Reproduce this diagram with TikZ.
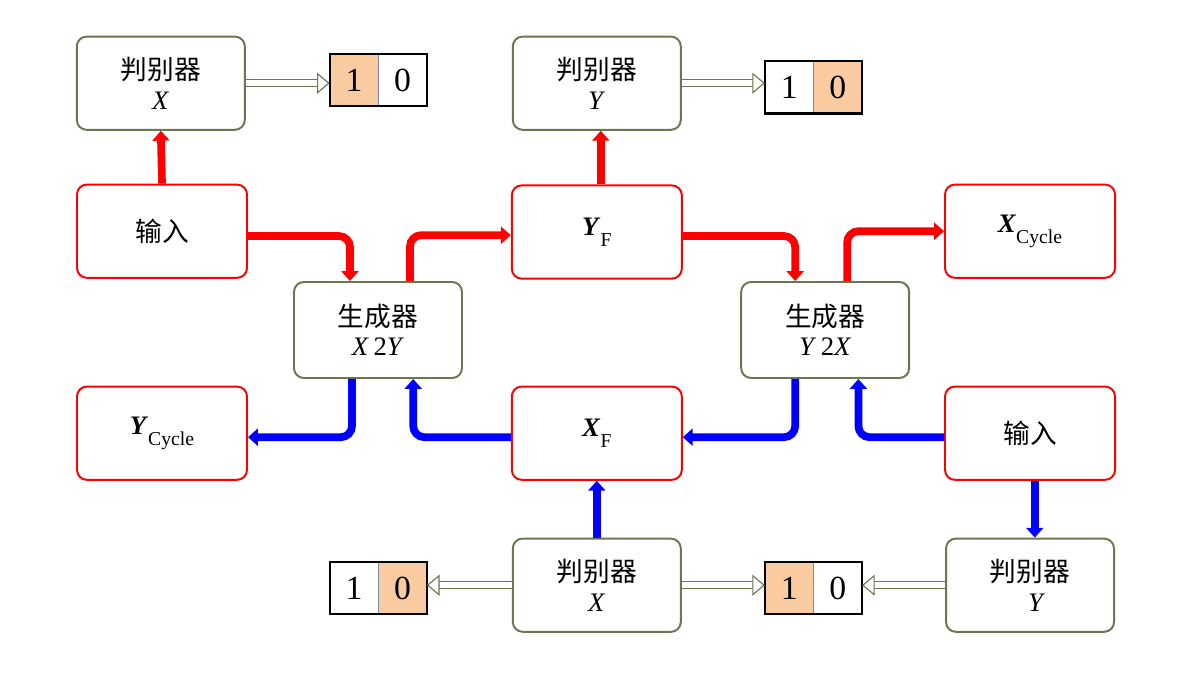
\documentclass[tikz,border=0pt]{standalone}
\usepackage{fontspec}
\setmainfont{Liberation Serif}
\newfontfamily\cjk{Noto Sans CJK SC}
\usepackage{tikz}
\usetikzlibrary{arrows.meta,calc,positioning}
\definecolor{boxred}{RGB}{255,0,0}
\definecolor{flowblue}{RGB}{0,0,255}
\definecolor{boxolive}{RGB}{105,120,80}
\definecolor{peach}{RGB}{250,203,160}
\definecolor{divgray}{RGB}{120,140,170}
\newcommand\lowsub[1]{\raisebox{-8pt}{\fontsize{14}{14}\selectfont #1}}
\tikzset{
    redbox/.style={draw=boxred, line width=1.4pt, rounded corners=7pt, minimum width=4.25cm, minimum height=2.33cm, align=center},
    olivebox/.style={draw=boxolive, line width=1.4pt, rounded corners=7pt, minimum width=4.2cm, minimum height=2.33cm, align=center},
    genbox/.style={olivebox, minimum height=2.4cm},
    cell/.style={minimum width=1.2cm, minimum height=1.3cm, inner sep=0pt, font=\fontsize{24}{24}\selectfont},
    redflow/.style={draw=boxred, line width=5.5pt, rounded corners=8pt, -{Triangle[length=7pt,width=12pt]}},
    blueflow/.style={redflow, draw=flowblue},
    hollowshaft/.style={draw=boxolive, line width=0.8pt, double=white, double distance=4pt, shorten >=8pt},
    hollowtip/.style={draw=boxolive, line width=0.8pt, -{Triangle[length=9pt,width=15pt,fill=white]}}
}
\def\Hollow(#1) to (#2);{
    \coordinate (hend) at (#1 -| #2);
    \draw[hollowshaft] (#1) -- (hend);
    \draw[hollowtip] ($(hend)!9pt!(#1)$) -- (hend);
}
\def\Score at (#1, #2) named #3 fill #4 and #5;{
    \node[cell, fill=#4] (#3a) at (#1, #2) {1};
    \node[cell, fill=#5, right=0pt of #3a] (#3b) {0};
    \draw[divgray, line width=1pt] (#3a.north east) -- (#3a.south east);
    \draw[line width=1.5pt] (#3a.north west) rectangle (#3b.south east);
}

\begin{document}
\begin{tikzpicture}[font=\fontsize{19}{21}\selectfont]
        \useasboundingbox (0, 0) rectangle (30, -16.85);
        % top row
        \node[olivebox] (dXt) at (4.02, -2.08) {{\cjk 判别器}\\\textit{X}};
        \node[olivebox] (dYt) at (14.92, -2.08) {{\cjk 判别器}\\\textit{Y}};
        \Score at (8.85, -2.0) named o1 fill peach and white;
        \Score at (19.73, -2.18) named o2 fill white and peach;
        % second row
        \node[redbox] (inL) at (4.05, -5.78) {\cjk 输入};
        \node[redbox] (YF) at (14.92, -5.8) {\textbf{\textit{Y}}\lowsub{F}};
        \node[redbox] (XC) at (25.75, -5.78) {\textbf{\textit{X}}\lowsub{Cycle}};
        % generators
        \node[genbox] (G1) at (9.45, -8.25) {{\cjk 生成器}\\\textit{X}\,2\textit{Y}};
        \node[genbox] (G2) at (20.63, -8.25) {{\cjk 生成器}\\\textit{Y}\,2\textit{X}};
        % third row
        \node[redbox] (YC) at (4.05, -10.83) {\textbf{\textit{Y}}\lowsub{Cycle}};
        \node[redbox] (XF) at (14.92, -10.83) {\textbf{\textit{X}}\lowsub{F}};
        \node[redbox] (inR) at (25.75, -10.83) {\cjk 输入};
        % bottom row
        \node[olivebox] (dXb) at (14.92, -14.63) {{\cjk 判别器}\\\textit{X}};
        \node[olivebox] (dYb) at (25.75, -14.63) {{\cjk 判别器}\\\hspace{0.5em}\textit{Y}};
        \Score at (8.85, -14.7) named o3 fill white and peach;
        \Score at (19.73, -14.7) named o4 fill peach and white;

        \draw[redflow] (inL.north) -- (dXt.south);
        \draw[redflow] ([yshift=-0.12cm]inL.east) -| ([xshift=-0.7cm]G1.north);
        \draw[redflow] ([xshift=0.8cm]G1.north) |- ([yshift=-0.08cm]YF.west);
        \draw[redflow] ([xshift=0.1cm]YF.north) -- ([xshift=0.1cm]dYt.south);
        \draw[redflow] ([yshift=-0.1cm]YF.east) -| ([xshift=-0.75cm]G2.north);
        \draw[redflow] ([xshift=0.55cm]G2.north) |- (XC.west);

        \draw[blueflow] ([xshift=-0.65cm]G1.south) |- ([yshift=-0.1cm]YC.east);
        \draw[blueflow] ([yshift=-0.1cm]XF.west) -| ([xshift=0.88cm]G1.south);
        \draw[blueflow] ([xshift=-0.75cm]G2.south) |- ([yshift=-0.1cm]XF.east);
        \draw[blueflow] ([yshift=-0.1cm]inR.west) -| ([xshift=0.83cm]G2.south);
        \draw[blueflow] ([xshift=0.12cm]inR.south) -- ([xshift=0.12cm]dYb.north);
        \draw[blueflow] (dXb.north) -- (XF.south);

        \Hollow (dXt.east) to (o1a.west);
        \Hollow (dYt.east) to (o2a.west);
        \Hollow (dXb.west) to (o3b.east);
        \Hollow (dXb.east) to (o4a.west);
        \Hollow (dYb.west) to (o4b.east);
    \end{tikzpicture}
\end{document}
